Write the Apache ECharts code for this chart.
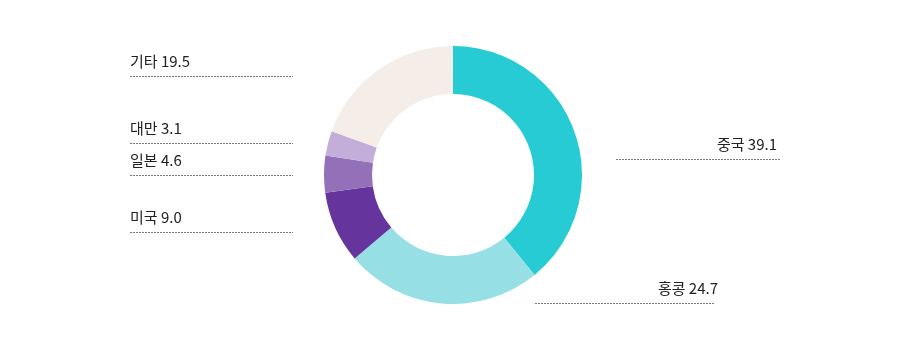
<!DOCTYPE html>
<html>
<head>
<meta charset="utf-8">
<script src="https://cdn.jsdelivr.net/npm/echarts@6/dist/echarts.min.js"></script>
<style>
html, body { margin: 0; padding: 0; background: #fff; }
#chart { width: 900px; height: 354px; }
</style>
</head>
<body>
<div id="chart"></div>
<script>
// 국가별 비중
var names = ['중국', '홍콩', '미국', '일본', '대만', '기타'];
var values = [39.1, 24.7, 9.0, 4.6, 3.1, 19.5];
var colors = ['#27cbd4', '#96dfe4', '#65349c', '#9370b8', '#c2aed9', '#f4ede8'];

// 라벨 밑줄 위치 (x시작, x끝, y, 글자 기준 x)
var guides = [
    [616, 780, 159, 777],
    [535, 715, 303, 718],
    [130, 293, 232, 130],
    [130, 293, 175, 130],
    [130, 293, 143, 130],
    [130, 293, 76, 130]
];

var chart = echarts.init(document.getElementById('chart'));

var option = {
    animation: false,
    series: [{
        type: 'pie',
        center: [453, 175],
        radius: [81, 129],
        startAngle: 90,
        silent: true,
        emphasis: { disabled: true },
        label: {
            show: true,
            formatter: function (p) { return p.name + ' ' + values[p.dataIndex].toFixed(1); },
            fontFamily: 'Noto Sans CJK KR',
            fontSize: 15,
            color: '#222'
        },
        labelLine: {
            show: true,
            lineStyle: { color: '#777', width: 1, type: [2, 1] }
        },
        labelLayout: function (params) {
            var g = guides[params.dataIndex];
            var left = g[0] < 453;
            return {
                x: g[3],
                y: g[2] - 15,
                align: left ? 'left' : 'right',
                verticalAlign: 'middle',
                labelLinePoints: [[g[0], g[2] + 0.5], [g[1], g[2] + 0.5], [g[1], g[2] + 0.5]]
            };
        },
        data: names.map(function (n, i) {
            return { name: n, value: values[i], itemStyle: { color: colors[i] } };
        })
    }]
};

chart.setOption(option);
</script>
</body>
</html>
